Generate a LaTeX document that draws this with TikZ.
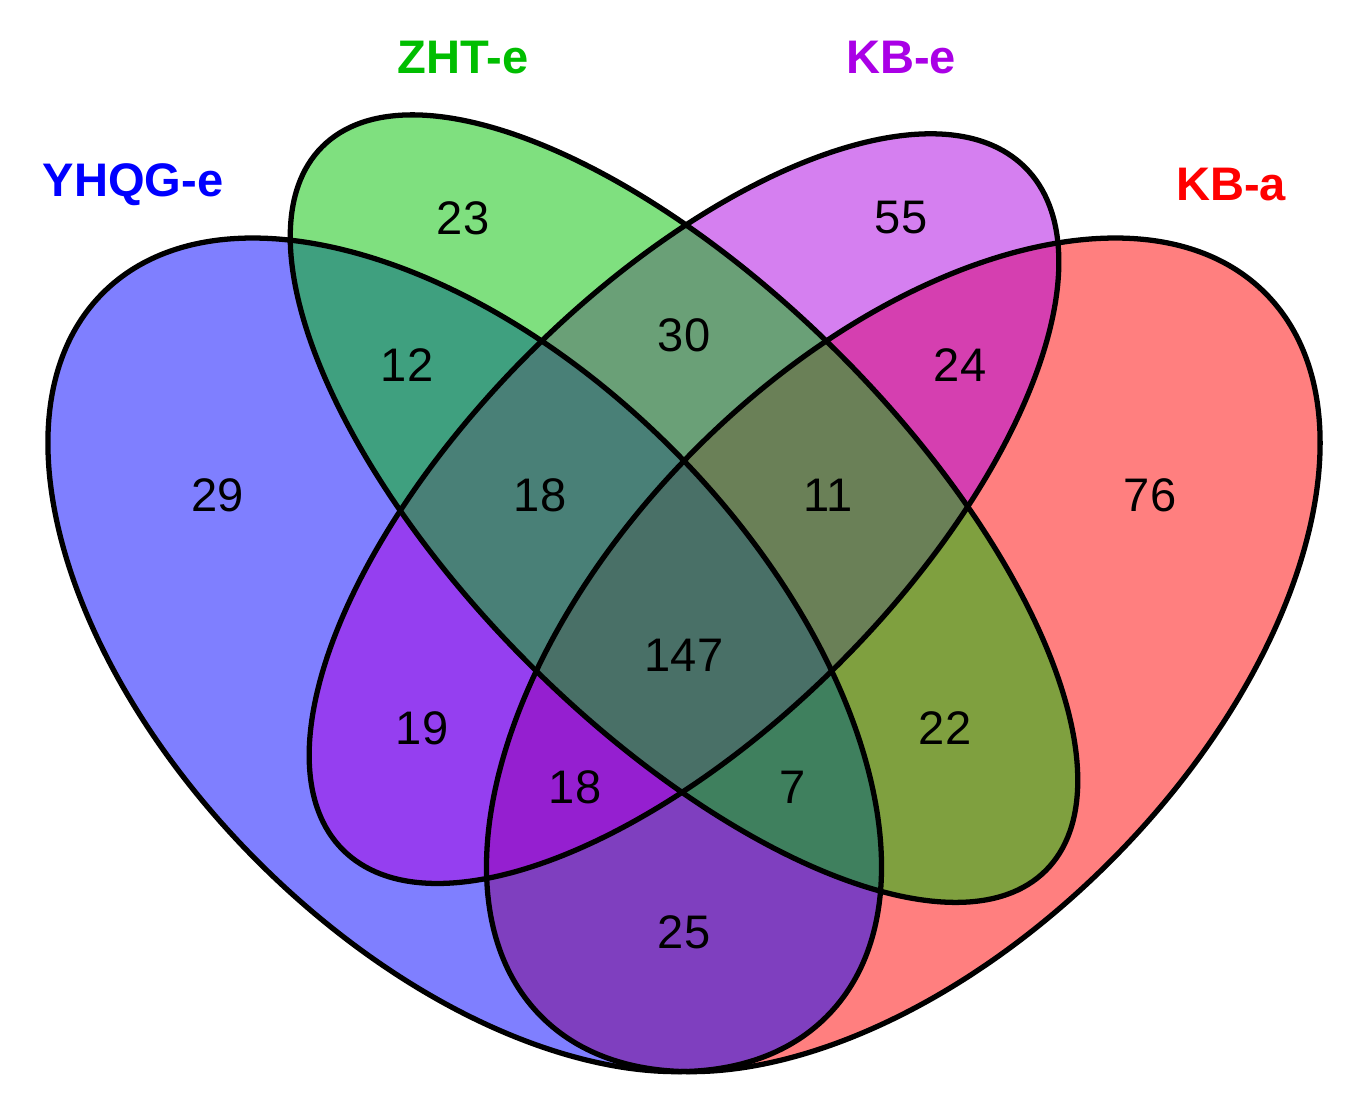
\documentclass[tikz,border=0pt]{standalone}
\usepackage{fontspec}
\setmainfont{Liberation Sans}
\definecolor{cblue}{RGB}{0,0,255}
\definecolor{cred}{RGB}{255,0,0}
\definecolor{cgreen}{RGB}{0,194,0}
\definecolor{cpurple}{RGB}{172,0,226}
\definecolor{lgreen}{RGB}{0,190,0}
\definecolor{lpurple}{RGB}{170,0,230}
\begin{document}
\begin{tikzpicture}[
  num/.style={font=\fontsize{13.4}{15}\selectfont, text=black},
  setlabel/.style={font=\fontsize{13.4}{15}\selectfont\bfseries},
  vfill/.style={fill opacity=0.5, draw=none},
  vline/.style={draw=black, line width=1.5pt, fill=none}
]
\useasboundingbox (0,0) rectangle (13.66,11.15);
\begin{scope}[shift={(-0.47,-2.27)}, scale=14.62]
  % fills
  \fill[vfill, cred, rotate around={45:(0.65,0.47)}] (0.65,0.47) ellipse [x radius=0.35, y radius=0.20];
  \fill[vfill, cblue, rotate around={135:(0.35,0.47)}] (0.35,0.47) ellipse [x radius=0.35, y radius=0.20];
  \fill[vfill, cpurple, rotate around={45:(0.5,0.57)}] (0.5,0.57) ellipse [x radius=0.33, y radius=0.15];
  \fill[vfill, cgreen, rotate around={135:(0.5,0.57)}] (0.5,0.57) ellipse [x radius=0.35, y radius=0.15];
  % outlines
  \draw[vline, rotate around={45:(0.65,0.47)}] (0.65,0.47) ellipse [x radius=0.35, y radius=0.20];
  \draw[vline, rotate around={135:(0.35,0.47)}] (0.35,0.47) ellipse [x radius=0.35, y radius=0.20];
  \draw[vline, rotate around={45:(0.5,0.57)}] (0.5,0.57) ellipse [x radius=0.33, y radius=0.15];
  \draw[vline, rotate around={135:(0.5,0.57)}] (0.5,0.57) ellipse [x radius=0.35, y radius=0.15];
\end{scope}
% set labels (pixel coords -> cm: x/100, (1115-y)/100)
\node[setlabel, text=cblue] (lA) at (1.33,9.30) {YHQG-e};
\node[setlabel, text=lgreen] (lB) at (4.63,10.57) {ZHT-e};
\node[setlabel, text=lpurple] (lC) at (9.01,10.57) {KB-e};
\node[setlabel, text=cred] (lD) at (12.31,9.30) {KB-a};
% counts
\node[num] (n29) at (2.18,6.20) {29};
\node[num] (n23) at (4.63,8.97) {23};
\node[num] (n55) at (9.01,8.97) {55};
\node[num] (n76) at (11.50,6.20) {76};
\node[num] (n12) at (4.07,7.50) {12};
\node[num] (n30) at (6.84,7.80) {30};
\node[num] (n24) at (9.60,7.50) {24};
\node[num] (n18a) at (5.40,6.20) {18};
\node[num] (n11) at (8.28,6.20) {11};
\node[num] (n147) at (6.84,4.60) {147};
\node[num] (n19) at (4.22,3.87) {19};
\node[num] (n22) at (9.45,3.87) {22};
\node[num] (n18b) at (5.75,3.28) {18};
\node[num] (n7) at (7.93,3.28) {7};
\node[num] (n25) at (6.84,1.83) {25};
\end{tikzpicture}
\end{document}
